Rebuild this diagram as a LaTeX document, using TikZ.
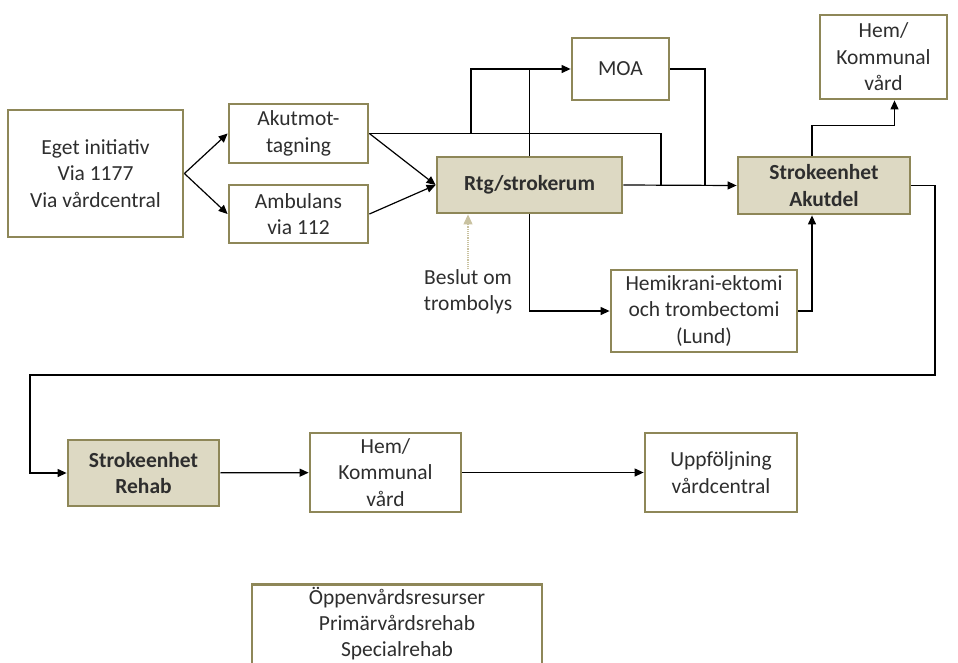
\documentclass[tikz,border=0pt]{standalone}
\usepackage{fontspec}
\setmainfont{Carlito}
\usepackage{xcolor}
\usepackage{tikz}
\usetikzlibrary{positioning,arrows.meta,calc}
\definecolor{BoxOlive}{HTML}{8E8758}
\definecolor{BoxTan}{HTML}{DDD9C3}
\definecolor{TextGray}{HTML}{2E2E2E}
\definecolor{HintTan}{HTML}{C9C2A0}

\begin{document}
\begin{tikzpicture}[x=1pt, y=-1pt,
      bx/.style={rectangle, draw=BoxOlive, line width=2.8pt, fill=white,
                 text=TextGray, font=\fontsize{21.5}{26.5}\selectfont,
                 align=center, inner sep=0pt},
      sh/.style={bx, fill=BoxTan, font=\fontsize{21.5}{26.5}\selectfont\bfseries},
      ln/.style={line width=1.2pt, black},
      ar/.style={ln, -{Triangle[length=9pt,width=8pt]}},
      dar/.style={-{Triangle[length=10pt,width=9pt]}, HintTan, line width=1.2pt, densely dotted},
    ]
      \useasboundingbox (0,0) rectangle (958,662);
      % first contact
      \node[bx, minimum width=175pt, minimum height=127pt] (eget) at (95.5,173.5) {Eget initiativ\\Via 1177\\Via vårdcentral};
      \node[bx, minimum width=139pt, minimum height=59pt] (akut) at (298.5,133.5) {Akutmot-\\tagning};
      \node[bx, minimum width=139pt, minimum height=58pt] (amb) at (298.5,214) {Ambulans\\via 112};
      % hospital
      \node[sh, minimum width=185pt, minimum height=56pt] (rtg) at (529.5,185) {Rtg/strokerum};
      \node[bx, minimum width=97pt, minimum height=62pt] (moa) at (620.5,69) {MOA};
      \node[sh, minimum width=172pt, minimum height=57pt] (akutdel) at (824,185.5) {Strokeenhet\\Akutdel};
      \node[bx, minimum width=127pt, minimum height=84pt] (hemtop) at (883.5,57) {Hem/\\Kommunal\\vård};
      \node[bx, minimum width=186pt, minimum height=82pt] (hemi) at (704,311) {Hemikrani-ektomi\\och trombectomi\\(Lund)};
      \node[text=TextGray, font=\fontsize{21.5}{26.5}\selectfont, align=center, inner sep=0pt] (besl) at (468,292) {Beslut om\\trombolys};
      % rehab chain
      \node[sh, minimum width=151pt, minimum height=66pt] (rehab) at (143.5,473) {Strokeenhet\\Rehab};
      \node[bx, minimum width=151pt, minimum height=79pt] (hem) at (385.5,472.5) {Hem/\\Kommunal\\vård};
      \node[bx, minimum width=152pt, minimum height=79pt] (upp) at (721,472.5) {Uppföljning\\vårdcentral};
      \node[bx, minimum width=290pt, minimum height=100pt, anchor=north] (oppen) at (397,583) {};
      \node[text=TextGray, font=\fontsize{21.5}{26}\selectfont, align=center, inner sep=0pt, anchor=north] (oppentxt) at (397,587) {Öppenvårdsresurser\\Primärvårdsrehab\\Specialrehab};
      % joints
      \coordinate (br) at (471,133);
      \coordinate (ja) at (661,185);
      \coordinate (jb) at (705,185);
      \coordinate (rt) at (935,375);
      \coordinate (lf) at (30,375);
      % connectors
      \draw[ar] (eget.east) -- (akut.west);
      \draw[ar] (eget.east) -- (amb.west);
      \draw[ar] (akut.east) -- (rtg.west);
      \draw[ar] (amb.east) -- (rtg.west);
      \draw[ln] (akut.east) -| (ja);
      \draw[ar] (br) |- (moa.west);
      \draw[ln] (rtg.north) -- (rtg.north |- moa.west);
      \draw[ln] (moa.east) -| (jb);
      \draw[ar] (rtg.east) -- (akutdel.west);
      \draw[ar] (rtg.south) |- (hemi.west);
      \draw[ar] (hemi.east) -| ([xshift=-12pt]akutdel.south);
      \draw[ar] ([xshift=-12pt]akutdel.north) -- ++(0,-30) -| ([xshift=11pt]hemtop.south);
      \draw[dar] (besl.north) -- (besl.north |- rtg.south);
      \draw[ar] (akutdel.east) -| (rt) -- (lf) |- (rehab.west);
      \draw[ar] (rehab) -- (hem);
      \draw[ar] (hem) -- (upp);
    \end{tikzpicture}
\end{document}
